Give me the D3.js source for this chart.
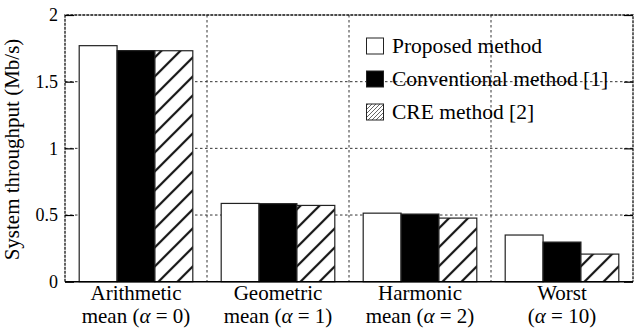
<!DOCTYPE html>
<html>
<head>
<meta charset="utf-8">
<script src="https://cdn.jsdelivr.net/npm/d3@7"></script>
<style>
  html, body { margin: 0; padding: 0; background: #fff; }
  svg { display: block; }
  svg text { font-family: "Liberation Serif", "Times New Roman", Times, serif; }
</style>
</head>
<body>
<svg id="chart" width="642" height="332"></svg>
<script>
// ---- data ----
const categories = ["Arithmetic", "Geometric", "Harmonic", "Worst"];
const categoryLine2 = [["mean (", "α", " = 0)"], ["mean (", "α", " = 1)"], ["mean (", "α", " = 2)"], ["(", "α", " = 10)"]];
const seriesNames = ["Proposed method", "Conventional method [1]", "CRE method [2]"];
const proposed = [1.77, 0.587, 0.514, 0.35];
const conventional = [1.733, 0.585, 0.507, 0.297];
const cre = [1.732, 0.572, 0.477, 0.207];
const yTicks = [0, 0.5, 1, 1.5, 2];
const yTickLabels = ["0", "0.5", "1", "1.5", "2"];

const seriesValues = [proposed, conventional, cre];

(function () {
const FONT = "Liberation Serif, Times New Roman, serif";
const svg = d3.select("#chart");
const mLeft = 65, mRight = 633, mTop = 15, mBottom = 281.7;

const x0 = d3.scaleBand().domain(categories).range([mLeft, mRight]).paddingInner(0.2).paddingOuter(0.1);
const x1 = d3.scaleBand().domain(seriesNames).range([0, x0.bandwidth()]);
const y = d3.scaleLinear().domain([0, 2]).range([mBottom, mTop]);

// patterns
const defs = svg.append("defs");
const hatch = defs.append("pattern").attr("id", "hatch").attr("patternUnits", "userSpaceOnUse")
  .attr("width", 19).attr("height", 19);
hatch.append("rect").attr("width", 19).attr("height", 19).attr("fill", "#fff");
hatch.append("path").attr("d", "M-1,20 L20,-1 M-5,5 L5,-5 M14,24 L24,14")
  .attr("stroke", "#111").attr("stroke-width", 2.2);
const hatchS = defs.append("pattern").attr("id", "hatchSmall").attr("patternUnits", "userSpaceOnUse")
  .attr("width", 4).attr("height", 4);
hatchS.append("rect").attr("width", 4).attr("height", 4).attr("fill", "#fff");
hatchS.append("path").attr("d", "M-1,5 L5,-1 M-1,1 L1,-1 M3,5 L5,3")
  .attr("stroke", "#666").attr("stroke-width", 1);

const fills = ["#ffffff", "#000000", "url(#hatch)"];
const legendFills = ["#ffffff", "#000000", "url(#hatchSmall)"];

// grid
const gridColor = "#333";
svg.append("g").selectAll("line").data(yTicks.filter(t => t > 0 && t < 2)).join("line")
  .attr("x1", mLeft).attr("x2", mRight).attr("y1", d => y(d)).attr("y2", d => y(d))
  .attr("stroke", gridColor).attr("stroke-width", 1).attr("stroke-dasharray", "2.5,2.5");
const bounds = categories.slice(1).map(c => x0(c) - x0.step() * x0.paddingInner() / 2);
svg.append("g").selectAll("line").data(bounds).join("line")
  .attr("x1", d => d).attr("x2", d => d).attr("y1", mTop).attr("y2", mBottom)
  .attr("stroke", gridColor).attr("stroke-width", 1).attr("stroke-dasharray", "2.5,2.5");

// legend
const lg = svg.append("g");
seriesNames.forEach((s, i) => {
  const cy = 46 + i * 33;
  lg.append("rect").attr("x", 366.5).attr("y", cy - 8).attr("width", 17).attr("height", 16)
    .attr("fill", legendFills[i]).attr("stroke", "#222").attr("stroke-width", 1);
  lg.append("text").attr("x", 392).attr("y", cy + 7).attr("font-size", 21.5)
    .attr("font-family", FONT).attr("fill", "#000").text(s);
});

// bars
const groups = svg.append("g").selectAll("g").data(categories).join("g")
  .attr("transform", d => `translate(${x0(d)},0)`);
groups.selectAll("rect").data((d, ci) => seriesNames.map((s, si) => ({ s, si, v: seriesValues[si][ci] })))
  .join("rect")
  .attr("x", d => x1(d.s)).attr("width", x1.bandwidth())
  .attr("y", d => y(d.v)).attr("height", d => y(0) - y(d.v))
  .attr("fill", d => fills[d.si]).attr("stroke", "#222").attr("stroke-width", 1.2);

// border
svg.append("path").attr("d", `M${mLeft},${mBottom} L${mLeft},${mTop} L${mRight},${mTop} L${mRight},${mBottom}`)
  .attr("fill", "none").attr("stroke", "#111").attr("stroke-width", 1.3).attr("stroke-dasharray", "3,1");
svg.append("line").attr("x1", mLeft).attr("x2", mRight).attr("y1", mBottom).attr("y2", mBottom)
  .attr("stroke", "#000").attr("stroke-width", 1.5);

// y axis (left), ticks inward
const yAxis = d3.axisLeft(y).tickValues(yTicks).tickFormat((d, i) => yTickLabels[i]).tickSizeInner(-9).tickSizeOuter(0).tickPadding(7);
const ya = svg.append("g").attr("transform", `translate(${mLeft},0)`).call(yAxis);
ya.attr("font-family", FONT);
ya.select(".domain").remove();
ya.selectAll("line").attr("stroke", "#000").attr("stroke-width", 1.2);
ya.selectAll("text").attr("font-size", 18).attr("fill", "#000").attr("font-family", FONT);
// right mirrored ticks
const yAxisR = d3.axisRight(y).tickValues(yTicks).tickFormat("").tickSizeInner(-9).tickSizeOuter(0);
const yr = svg.append("g").attr("transform", `translate(${mRight},0)`).call(yAxisR);
yr.select(".domain").remove();
yr.selectAll("line").attr("stroke", "#000").attr("stroke-width", 1.2);

// x labels
const xl = svg.append("g");
categories.forEach((c, i) => {
  const cx = x0(c) + x0.bandwidth() / 2;
  xl.append("text").attr("x", cx).attr("y", 300).attr("text-anchor", "middle")
    .attr("font-size", 21).attr("font-family", FONT).attr("fill", "#000").text(c);
  const t = xl.append("text").attr("x", cx).attr("y", 323).attr("text-anchor", "middle")
    .attr("font-size", 21).attr("font-family", FONT).attr("fill", "#000");
  categoryLine2[i].forEach((part, k) => {
    const ts = t.append("tspan").text(part);
    if (k === 1) ts.attr("font-style", "italic");
  });
});

// y title
svg.append("text").attr("transform", `translate(19,149.5) rotate(-90)`)
  .attr("text-anchor", "middle").attr("font-size", 21).attr("font-family", FONT).attr("fill", "#000")
  .text("System throughput (Mb/s)");
})();
</script>
</body>
</html>
